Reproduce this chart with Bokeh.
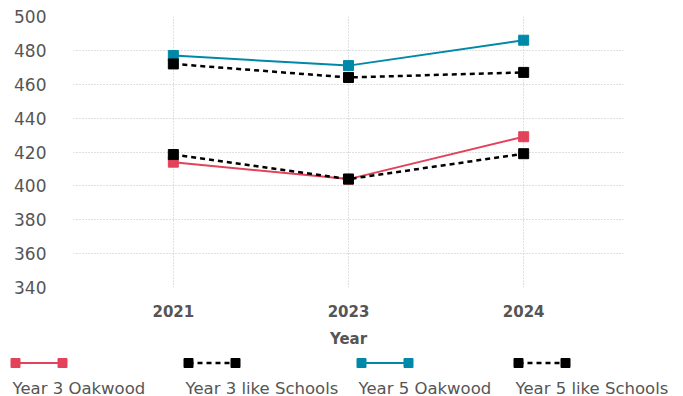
from bokeh.plotting import figure
from bokeh.models import Range1d, FixedTicker
from bokeh.layouts import column
from bokeh.core.properties import value
from bokeh.embed import file_html
from bokeh.resources import INLINE

# ---- data ----
years = ["2021", "2023", "2024"]
y3_oakwood = [414, 404, 429]
y3_like = [418.5, 404, 419]
y5_oakwood = [477, 471, 486]
y5_like = [472, 464, 467]
series_names = ["Year 3 Oakwood", "Year 3 like Schools", "Year 5 Oakwood", "Year 5 like Schools"]
y_ticks = [340, 360, 380, 400, 420, 440, 460, 480, 500]

# ---- style ----
RED = "#e2435a"
TEAL = "#0088a8"
BLACK = "#000000"
GRID = "#c0c0c0"
TXT = "#555555"
FONT = "DejaVu Sans"

xs = list(range(len(years)))

p = figure(width=683, height=350,
           x_range=Range1d(-0.57, 2.57), y_range=Range1d(340, 500),
           output_backend="svg", toolbar_location=None,
           min_border_left=73, min_border_right=60,
           min_border_top=16, min_border_bottom=62)
p.frame_align = False
p.outline_line_color = None
p.background_fill_color = "white"
p.border_fill_color = "white"

for g in (p.xgrid, p.ygrid):
    g.grid_line_color = GRID
    g.grid_line_dash = "1 2"
    g.grid_line_width = 1

p.xaxis.ticker = FixedTicker(ticks=xs)
p.xaxis.major_label_overrides = {i: y for i, y in enumerate(years)}
p.xaxis.axis_label = "Year"
p.yaxis.ticker = FixedTicker(ticks=y_ticks)

for ax in (p.xaxis, p.yaxis):
    ax.axis_line_color = None
    ax.major_tick_line_color = None
    ax.minor_tick_line_color = None
    ax.major_label_text_color = TXT
    ax.major_label_text_font = FONT
    ax.axis_label_text_color = TXT
    ax.axis_label_text_font = FONT

p.xaxis.major_label_text_font_style = "bold"
p.xaxis.major_label_text_font_size = "15px"
p.xaxis.major_label_standoff = 11
p.xaxis.axis_label_text_font_style = "bold"
p.xaxis.axis_label_text_font_size = "15px"
p.xaxis.axis_label_standoff = 10
p.yaxis.major_label_text_font_size = "17px"
p.yaxis.major_label_standoff = 21

specs = [
    (y3_oakwood, RED, "solid", 2),
    (y3_like, BLACK, "5 4", 2.5),
    (y5_oakwood, TEAL, "solid", 2),
    (y5_like, BLACK, "5 4", 2.5),
]
for ys, col, dash, lw in specs:
    p.line(xs, ys, line_color=col, line_width=lw, line_dash=dash)
    p.scatter(xs, ys, marker="square", size=10, fill_color=col, line_color=col)

# ---- legend strip (label under each sample) ----
leg = figure(width=683, height=46, x_range=Range1d(0, 683), y_range=Range1d(46, 0),
             output_backend="svg", toolbar_location=None,
             min_border=0, min_border_left=0, min_border_right=0,
             min_border_top=0, min_border_bottom=0)
leg.frame_align = False
leg.axis.visible = False
leg.grid.visible = False
leg.outline_line_color = None

legend_x = [12, 185, 358, 515]
for (ys, col, dash, lw), x0, name in zip(specs, legend_x, series_names):
    lx = [x0 + 3, x0 + 50]
    ly = [12.5, 12.5]
    leg.line(lx, ly, line_color=col, line_width=lw, line_dash=dash)
    leg.scatter(lx, ly, marker="square", size=9, fill_color=col, line_color=col)
    leg.text(x=[x0], y=[37.5], text=[name], text_font=value(FONT),
             text_font_size="16.5px", text_color=TXT,
             text_baseline="middle", text_align="left")

layout = column(p, leg, spacing=0)
open("out.html", "w").write(file_html(layout, INLINE))
